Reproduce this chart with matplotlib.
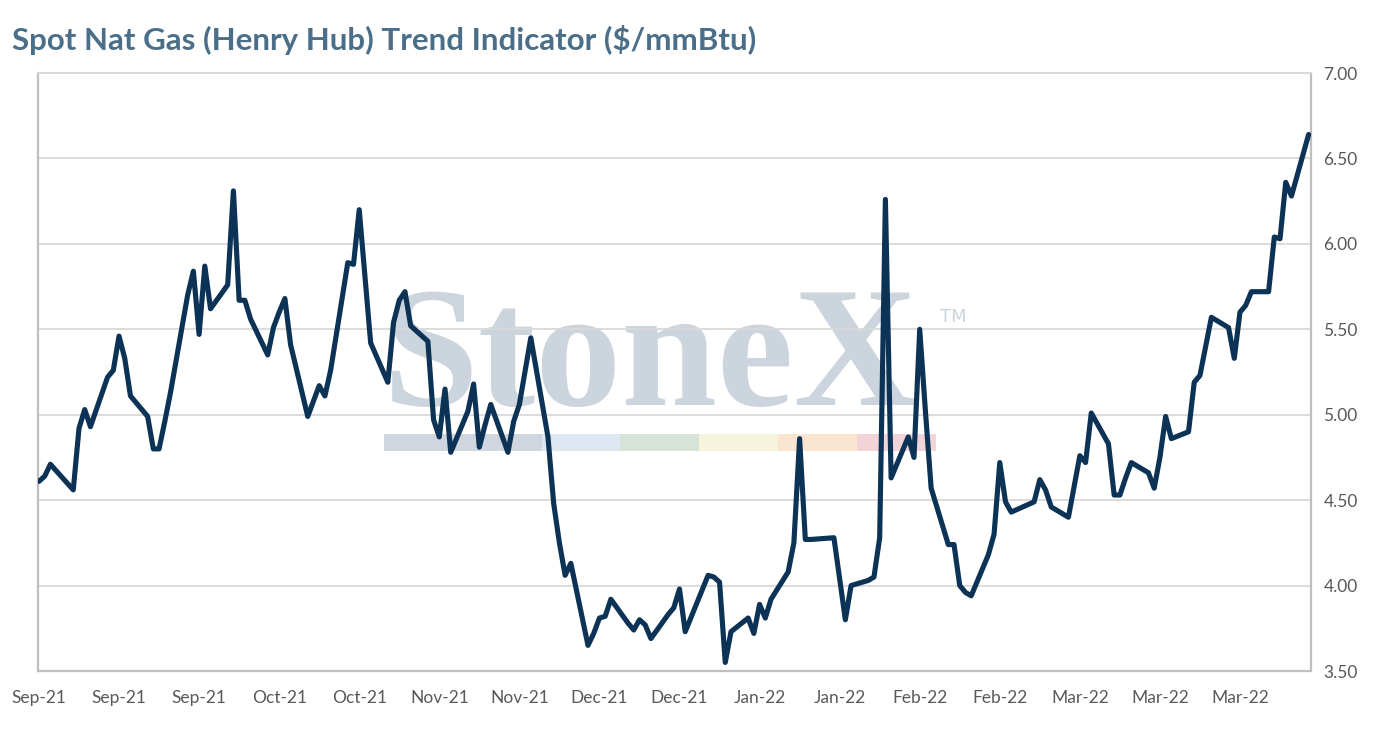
import matplotlib
matplotlib.use("Agg")
import matplotlib.pyplot as plt
import matplotlib.dates as mdates
import numpy as np
from matplotlib.patches import Rectangle

# ---- data (Henry Hub spot, $/mmBtu) ----
dates = [
    "2021-09-01", "2021-09-02", "2021-09-03", "2021-09-07", "2021-09-08", "2021-09-09", "2021-09-10",
    "2021-09-13", "2021-09-14", "2021-09-15", "2021-09-16", "2021-09-17",
    "2021-09-20", "2021-09-21", "2021-09-22", "2021-09-23", "2021-09-24",
    "2021-09-27", "2021-09-28", "2021-09-29", "2021-09-30", "2021-10-01",
    "2021-10-04", "2021-10-05", "2021-10-06", "2021-10-07", "2021-10-08",
    "2021-10-11", "2021-10-12", "2021-10-13", "2021-10-14", "2021-10-15",
    "2021-10-18", "2021-10-19", "2021-10-20", "2021-10-21", "2021-10-22",
    "2021-10-25", "2021-10-26", "2021-10-27", "2021-10-28", "2021-10-29",
    "2021-11-01", "2021-11-02", "2021-11-03", "2021-11-04", "2021-11-05",
    "2021-11-08", "2021-11-09", "2021-11-10", "2021-11-11", "2021-11-12",
    "2021-11-15", "2021-11-16", "2021-11-17", "2021-11-18", "2021-11-19",
    "2021-11-22", "2021-11-23", "2021-11-24", "2021-11-26",
    "2021-11-29", "2021-11-30", "2021-12-01", "2021-12-02", "2021-12-03",
    "2021-12-06", "2021-12-07", "2021-12-08", "2021-12-09", "2021-12-10",
    "2021-12-13", "2021-12-14", "2021-12-15", "2021-12-16", "2021-12-17",
    "2021-12-20", "2021-12-21", "2021-12-22", "2021-12-23",
    "2021-12-27", "2021-12-28", "2021-12-29", "2021-12-30", "2021-12-31",
    "2022-01-03", "2022-01-04", "2022-01-05", "2022-01-06", "2022-01-07",
    "2022-01-10", "2022-01-11", "2022-01-12", "2022-01-13", "2022-01-14",
    "2022-01-18", "2022-01-19", "2022-01-20", "2022-01-21",
    "2022-01-24", "2022-01-25", "2022-01-26", "2022-01-27", "2022-01-28",
    "2022-01-31", "2022-02-01", "2022-02-02", "2022-02-03", "2022-02-04",
    "2022-02-07", "2022-02-08", "2022-02-09", "2022-02-10", "2022-02-11",
    "2022-02-14", "2022-02-15", "2022-02-16", "2022-02-17", "2022-02-18",
    "2022-02-22", "2022-02-23", "2022-02-24", "2022-02-25",
    "2022-02-28", "2022-03-01", "2022-03-02", "2022-03-03", "2022-03-04",
    "2022-03-07", "2022-03-08", "2022-03-09", "2022-03-10", "2022-03-11",
    "2022-03-14", "2022-03-15", "2022-03-16", "2022-03-17", "2022-03-18",
    "2022-03-21", "2022-03-22", "2022-03-23", "2022-03-24", "2022-03-25",
    "2022-03-28", "2022-03-29", "2022-03-30", "2022-03-31", "2022-04-01",
    "2022-04-04", "2022-04-05", "2022-04-06", "2022-04-07", "2022-04-08",
    "2022-04-11",
]
prices = [
    4.61, 4.64, 4.71, 4.56, 4.92, 5.03, 4.93,
    5.22, 5.26, 5.46, 5.33, 5.11,
    4.99, 4.80, 4.80, 4.96, 5.13,
    5.70, 5.84, 5.47, 5.87, 5.62,
    5.76, 6.31, 5.67, 5.67, 5.56,
    5.35, 5.51, 5.60, 5.68, 5.41,
    4.99, 5.08, 5.17, 5.11, 5.26,
    5.89, 5.88, 6.20, 5.81, 5.42,
    5.19, 5.54, 5.67, 5.72, 5.52,
    5.43, 4.97, 4.87, 5.15, 4.78,
    5.02, 5.18, 4.81, 4.94, 5.06,
    4.78, 4.96, 5.06, 5.45,
    4.87, 4.48, 4.25, 4.06, 4.13,
    3.65, 3.72, 3.81, 3.82, 3.92,
    3.78, 3.74, 3.80, 3.77, 3.69,
    3.83, 3.87, 3.98, 3.73,
    4.06, 4.05, 4.02, 3.55, 3.73,
    3.81, 3.72, 3.89, 3.81, 3.92,
    4.08, 4.25, 4.86, 4.27, 4.27,
    4.28, 4.04, 3.80, 4.00,
    4.03, 4.05, 4.28, 6.26, 4.63,
    4.87, 4.75, 5.50, 5.02, 4.57,
    4.24, 4.24, 4.00, 3.96, 3.94,
    4.18, 4.30, 4.72, 4.49, 4.43,
    4.49, 4.62, 4.56, 4.46,
    4.40, 4.58, 4.76, 4.72, 5.01,
    4.83, 4.53, 4.53, 4.63, 4.72,
    4.66, 4.57, 4.75, 4.99, 4.86,
    4.90, 5.19, 5.23, 5.40, 5.57,
    5.51, 5.33, 5.60, 5.64, 5.72,
    5.72, 6.04, 6.03, 6.36, 6.28,
    6.64,
]
tick_dates = ["2021-09-01", "2021-09-15", "2021-09-29", "2021-10-13", "2021-10-27",
              "2021-11-10", "2021-11-24", "2021-12-08", "2021-12-22", "2022-01-05",
              "2022-01-19", "2022-02-02", "2022-02-16", "2022-03-02", "2022-03-16",
              "2022-03-30"]
y_ticks = [3.50, 4.00, 4.50, 5.00, 5.50, 6.00, 6.50, 7.00]
title = "Spot Nat Gas (Henry Hub) Trend Indicator ($/mmBtu)"

x = np.array(dates, dtype="datetime64[D]").astype("O")
xt = np.array(tick_dates, dtype="datetime64[D]").astype("O")

W, H = 1393, 729
fig = plt.figure(figsize=(W / 100, H / 100), dpi=100)
fig.patch.set_facecolor("white")
ax = fig.add_axes([38 / W, 1 - 671 / H, (1311 - 38) / W, (671 - 73) / H])

# watermark (StoneX logo)
ax.text((383 - 38) / 1273, (671 - 405) / 598, "StoneX", transform=ax.transAxes,
        fontsize=124, fontweight="bold", family="Liberation Serif", color="#ccd4dd",
        ha="left", va="baseline", zorder=0.5)
ax.text((940 - 38) / 1273, (671 - 322) / 598, "TM", transform=ax.transAxes, fontsize=13,
        family="DejaVu Sans", color="#ccd4dd", ha="left", va="baseline", zorder=0.5)
bar_cols = ["#cfd6df", "#cfd6df", "#dde8f2", "#d5e3d9", "#f6f4dc", "#f9e5d0", "#f2d4d8"]
seg_w = 78.8
for i, c in enumerate(bar_cols):
    x0 = (384 - 38 + i * seg_w) / (1311 - 38)
    ax.add_patch(Rectangle((x0, (671 - 451) / 598), seg_w / (1311 - 38), 17 / 598,
                           transform=ax.transAxes, facecolor=c, edgecolor="none",
                           zorder=0.5))

ax.plot(x, prices, color="#0c3355", lw=3.7, solid_joinstyle="round",
        solid_capstyle="round", zorder=3, clip_on=True)

ax.set_ylim(3.5, 7.0)
ax.set_yticks(y_ticks)
ax.yaxis.set_major_formatter(matplotlib.ticker.FormatStrFormatter("%.2f"))
ax.yaxis.tick_right()
x_left = np.datetime64("2021-09-01") - np.timedelta64(4, "h")
x_right = np.datetime64("2022-04-11") + np.timedelta64(10, "h")
ax.set_xlim(x_left.astype("O"), x_right.astype("O"))
ax.set_xticks(xt)
ax.xaxis.set_major_formatter(mdates.DateFormatter("%b-%y"))

ax.grid(axis="y", color="#d9d9d9", lw=1.3, zorder=1)
ax.set_axisbelow(True)
for s in ["left", "right", "bottom"]:
    ax.spines[s].set_color("#bfbfbf")
    ax.spines[s].set_linewidth(1.6)
ax.spines["top"].set_color("#d9d9d9")
ax.spines["top"].set_linewidth(1.3)

ax.tick_params(axis="y", length=0, pad=9, labelsize=12.5, labelcolor="#595959")
ax.tick_params(axis="x", length=0, pad=14, labelsize=12.5, labelcolor="#595959")
for lab in ax.get_xticklabels() + ax.get_yticklabels():
    lab.set_family("Lato")

fig.text(12 / W, 1 - 40 / H, title, ha="left", va="center", fontsize=22.5,
         fontweight="bold", family="Lato", color="#4b6f89")

fig.savefig("out.png", dpi=100, facecolor="white")
